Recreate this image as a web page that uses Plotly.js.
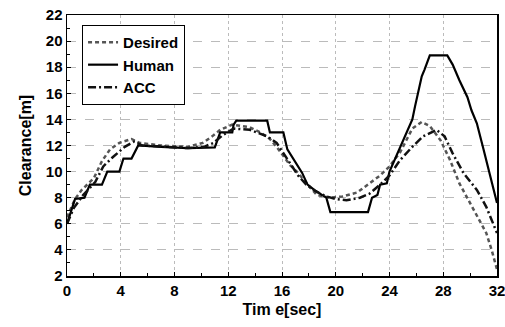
<!DOCTYPE html>
<html>
<head>
<meta charset="utf-8">
<script src="https://cdn.plot.ly/plotly-3.0.1.min.js"></script>
<style>html,body{margin:0;padding:0;background:#fff;}#chart{width:505px;height:327px;}</style>
</head>
<body>
<div id="chart"></div>
<script>
const humanT = [0, 0.3, 0.6, 1.3, 1.7, 2.6, 3.0, 3.9, 4.2, 4.8, 5.3, 7, 9, 11, 11.4, 12.3, 12.4, 12.6, 14.9, 15.1, 16.1, 16.4, 17.0, 17.5, 17.9, 18.4, 19.0, 19.3, 19.6, 22.4, 22.7, 23.1, 23.3, 23.8, 24.0, 24.3, 24.8, 25.3, 25.7, 25.9, 26.1, 26.4, 26.6, 27.0, 28.3, 28.7, 29.2, 29.8, 30.1, 30.5, 31.0, 31.5, 32];
const humanY = [6.0, 7.0, 7.9, 8.0, 9.0, 9.0, 10.0, 10.0, 11.0, 11.0, 12.0, 11.9, 11.8, 11.85, 13.0, 13.0, 13.6, 13.9, 13.9, 13.0, 13.0, 11.7, 10.7, 9.9, 9.0, 8.6, 8.2, 8.0, 6.9, 6.9, 8.0, 8.2, 9.0, 9.1, 10.0, 10.7, 11.9, 13.0, 14.0, 15.0, 16.0, 17.3, 17.8, 18.9, 18.9, 18.2, 17.0, 15.7, 14.7, 13.7, 11.7, 9.6, 7.6];

const desiredT = [0, 0.2, 0.6, 1.1, 2.0, 2.6, 3.2, 3.9, 4.8, 5.4, 7, 9, 10.1, 10.8, 11.4, 12.3, 13.6, 14.4, 15.1, 15.6, 16.1, 16.6, 17.1, 17.9, 18.6, 19.6, 20.5, 21.6, 22.5, 23.3, 24.0, 24.8, 25.3, 25.7, 26.4, 27.0, 27.8, 28.5, 29.2, 30.0, 30.7, 31.2, 31.6, 31.9, 32];
const desiredY = [6.5, 7.0, 7.9, 8.6, 9.5, 10.8, 11.7, 12.2, 12.5, 12.2, 12.0, 11.9, 12.2, 12.7, 13.2, 13.6, 13.4, 13.0, 12.5, 11.9, 11.2, 10.5, 10.0, 9.0, 8.2, 8.0, 8.1, 8.4, 9.1, 9.7, 10.4, 11.5, 12.5, 13.3, 13.8, 13.5, 12.4, 10.9, 9.1, 7.6, 6.3, 5.3, 4.0, 2.8, 2.5];

const accT = [0, 0.5, 1.2, 2.1, 2.7, 3.4, 4.3, 5.0, 5.6, 7, 9, 10.2, 10.9, 11.6, 12.4, 13.6, 14.9, 15.6, 16.2, 16.8, 17.2, 17.8, 18.5, 19.3, 20.0, 20.8, 21.8, 22.5, 23.3, 24.0, 24.8, 25.7, 26.5, 27.5, 28.1, 28.7, 29.5, 30.5, 31.2, 31.8, 32];
const accY = [6.0, 7.2, 8.2, 9.2, 10.4, 11.1, 11.9, 12.3, 12.0, 11.9, 11.8, 11.9, 12.2, 12.8, 13.3, 13.2, 12.7, 12.2, 11.3, 10.4, 9.7, 9.0, 8.5, 8.1, 7.9, 7.8, 8.0, 8.3, 9.0, 9.7, 10.9, 11.9, 12.7, 13.2, 12.7, 11.4, 9.9, 8.6, 7.3, 5.8, 5.3];

const seriesNames = ['Desired', 'Human', 'ACC'];
const xTicks = [0, 4, 8, 12, 16, 20, 24, 28, 32];
const yTicks = [2, 4, 6, 8, 10, 12, 14, 16, 18, 20, 22];

const F = '"Liberation Sans", Arial, sans-serif';

const traces = [
  {x: desiredT, y: desiredY, name: seriesNames[0], mode: 'lines',
   line: {color: '#555', width: 2.5, dash: '4px,3px'}},
  {x: humanT, y: humanY, name: seriesNames[1], mode: 'lines',
   line: {color: '#000', width: 2.2}},
  {x: accT, y: accY, name: seriesNames[2], mode: 'lines',
   line: {color: '#111', width: 2.5, dash: '8px,3px,2px,3px'}}
];

const axisCommon = {
  showline: true, linecolor: '#000', linewidth: 1.5, mirror: true,
  ticks: 'inside', ticklen: 4, tickcolor: '#000',
  gridcolor: '#aaa', gridwidth: 0.8, zeroline: false,
  ticklabeloverflow: 'allow',
  tickfont: {family: F, size: 15, color: '#000', weight: 'bold'}
};

const layout = {
  width: 505, height: 327,
  margin: {l: 67, r: 8, t: 15, b: 51},
  paper_bgcolor: '#fff', plot_bgcolor: '#fff',
  showlegend: true,
  legend: {x: 0.035, y: 0.962, xanchor: 'left', yanchor: 'top',
    bgcolor: '#fff', bordercolor: '#000', borderwidth: 1,
    font: {family: F, size: 15, color: '#000', weight: 'bold'},
    tracegroupgap: 0, itemwidth: 30},
  xaxis: Object.assign({}, axisCommon, {
    range: [0, 32], tickvals: xTicks, griddash: 'dot',
    minor: {dtick: 2, ticks: 'inside', ticklen: 3, tickcolor: '#000', showgrid: false},
    title: {text: 'Tim e[sec]', font: {family: F, size: 16, color: '#000', weight: 'bold'}, standoff: 6}
  }),
  yaxis: Object.assign({}, axisCommon, {
    range: [2, 22], tickvals: yTicks, griddash: 'dash',
    minor: {dtick: 1, ticks: 'inside', ticklen: 3, tickcolor: '#000', showgrid: false},
    title: {text: 'Clearance[m]', font: {family: F, size: 16, color: '#000', weight: 'bold'}, standoff: 10}
  })
};

Plotly.newPlot('chart', traces, layout, {staticPlot: true, displayModeBar: false});
</script>
</body>
</html>
